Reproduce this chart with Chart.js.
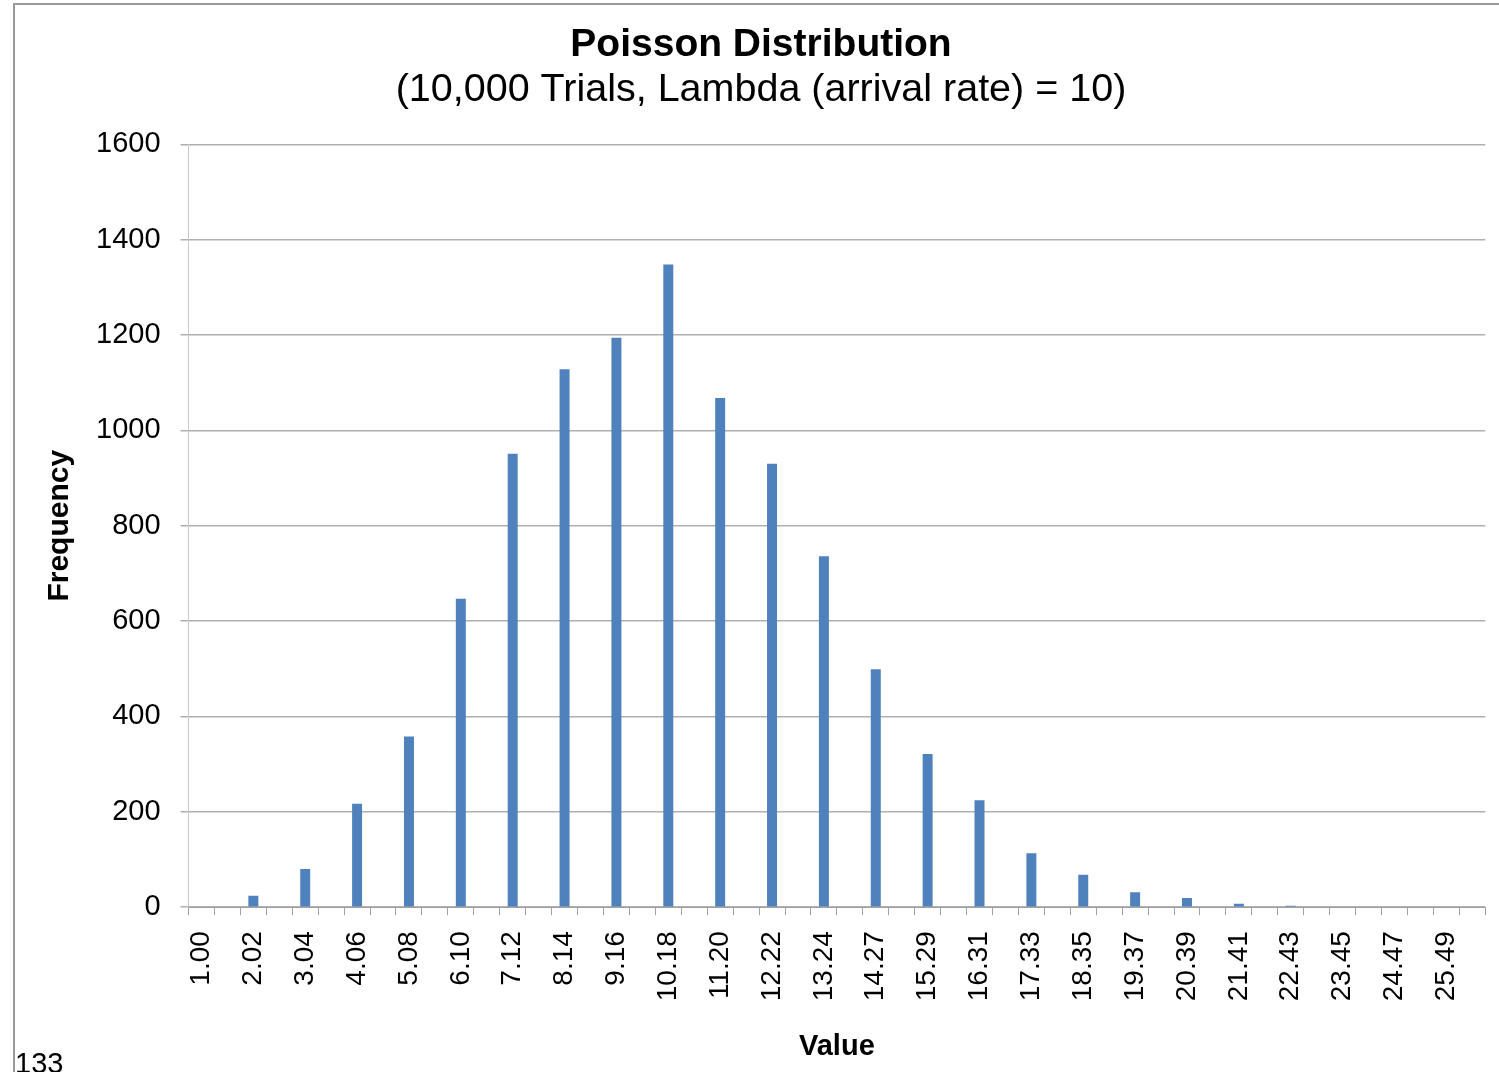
<!DOCTYPE html>
<html>
<head>
<meta charset="utf-8">
<script src="https://cdn.jsdelivr.net/npm/chart.js@4/dist/chart.umd.min.js"></script>
<style>
  html, body { margin: 0; padding: 0; background: #fff; overflow: hidden; }
  #wrap { position: relative; width: 1499px; height: 1072px; overflow: hidden; }
  #chart { position: absolute; left: 0; top: 0; }
  #frame {
    position: absolute; left: 13px; top: 3px; width: 1520px; height: 1100px;
    border: 2px solid #9a9a9a; box-sizing: border-box; pointer-events: none;
  }
  #page {
    position: absolute; left: 15px; top: 1047px;
    font: 29px "Liberation Sans", Arial, sans-serif; color: #000;
  }
</style>
</head>
<body>
<div id="wrap">
  <canvas id="chart" width="1522" height="1072"></canvas>
  <div id="frame"></div>
  <div id="page">133</div>
</div>
<script>
// bin labels (50 bins, only every other one printed)
const binLabels = [
  '1.00', '1.51', '2.02', '2.53', '3.04', '3.55', '4.06', '4.57', '5.08', '5.59',
  '6.10', '6.61', '7.12', '7.63', '8.14', '8.65', '9.16', '9.67', '10.18', '10.69',
  '11.20', '11.71', '12.22', '12.73', '13.24', '13.76', '14.27', '14.78', '15.29', '15.80',
  '16.31', '16.82', '17.33', '17.84', '18.35', '18.86', '19.37', '19.88', '20.39', '20.90',
  '21.41', '21.92', '22.43', '22.94', '23.45', '23.96', '24.47', '24.98', '25.49', '26.00'
];

// frequency per bin
const frequency = [
  0, 0, 24, 0, 80, 0, 217, 0, 358, 0,
  647, 0, 951, 0, 1128, 0, 1194, 0, 1348, 0,
  1068, 0, 930, 0, 736, 0, 499, 0, 321, 0,
  224, 0, 113, 0, 68, 0, 31, 0, 19, 0,
  7, 0, 3, 0, 0, 0, 0, 0, 0, 0
];

const yTicks = [0, 200, 400, 600, 800, 1000, 1200, 1400, 1600];

const FONT = "'Liberation Sans', Arial, sans-serif";
const gridGray = '#b0b0b0';

const ctx = document.getElementById('chart').getContext('2d');
const chart = new Chart(ctx, {
  type: 'bar',
  data: {
    labels: binLabels,
    datasets: [{
      label: 'Frequency',
      data: frequency,
      backgroundColor: '#4F81BD',
      borderWidth: 0,
      categoryPercentage: 1.0,
      barPercentage: 0.385
    }]
  },
  options: {
    responsive: false,
    animation: false,
    layout: { padding: { left: 14, right: 14, top: 0, bottom: 0 } },
    plugins: {
      legend: { display: false },
      tooltip: { enabled: false },
      title: {
        display: true,
        text: 'Poisson Distribution',
        color: '#000',
        font: { family: FONT, size: 39, weight: 'bold', lineHeight: 1.15 },
        padding: { top: 23, bottom: 0 }
      },
      subtitle: {
        display: true,
        text: '(10,000 Trials, Lambda (arrival rate) = 10)',
        color: '#000',
        font: { family: FONT, size: 39.5, weight: 'normal', lineHeight: 1.15 },
        padding: { top: 0, bottom: 31 }
      }
    },
    scales: {
      x: {
        offset: true,
        grid: {
          offset: true,
          drawOnChartArea: false,
          drawTicks: true,
          tickLength: 8,
          tickColor: '#a0a0a0'
        },
        border: { display: true, color: '#a0a0a0', width: 1 },
        ticks: {
          autoSkip: false,
          minRotation: 90,
          maxRotation: 90,
          padding: 16,
          color: '#000',
          font: { family: FONT, size: 28 },
          callback: function (value, index) {
            return index % 2 === 0 ? binLabels[index] : '';
          }
        },
        title: {
          display: true,
          text: 'Value',
          color: '#000',
          font: { family: FONT, size: 29, weight: 'bold' },
          padding: { top: 12, bottom: 8 }
        }
      },
      y: {
        min: yTicks[0],
        max: yTicks[yTicks.length - 1],
        afterBuildTicks: function (axis) {
          axis.ticks = yTicks.map(v => ({ value: v }));
        },
        grid: {
          color: gridGray,
          lineWidth: 1.5,
          drawTicks: true,
          tickLength: 8,
          tickColor: gridGray
        },
        border: { display: true, color: '#c8c8c8', width: 1 },
        ticks: {
          padding: 20,
          color: '#000',
          font: { family: FONT, size: 29 },
          callback: function (value) {
            return String(value);
          }
        },
        title: {
          display: true,
          text: 'Frequency',
          color: '#000',
          font: { family: FONT, size: 30, weight: 'bold' },
          padding: { top: 28, bottom: -2 }
        }
      }
    }
  }
});
</script>
</body>
</html>
